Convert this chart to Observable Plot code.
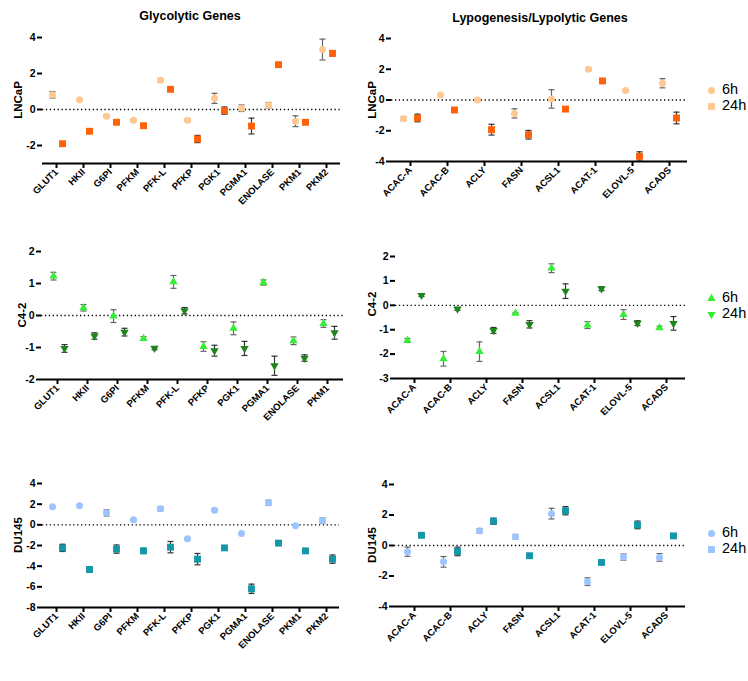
<!DOCTYPE html>
<html>
<head>
<meta charset="utf-8">
<script src="https://cdn.jsdelivr.net/npm/d3@7"></script>
<script src="https://cdn.jsdelivr.net/npm/@observablehq/plot@0.6"></script>
<style>
  body { margin: 0; background: white; }
  #root { position: relative; width: 748px; height: 681px; background: white; font-family: "Liberation Sans", Arial, sans-serif; overflow: hidden; }
  .abs { position: absolute; }
  .title { position: absolute; font-weight: bold; font-size: 12.5px; transform: translateX(-50%); white-space: nowrap; }
  .ylab { position: absolute; font-weight: bold; font-size: 11.5px; transform: translate(-50%, -50%) rotate(-90deg); white-space: nowrap; }
  .leg { position: absolute; font-family: "Liberation Sans", Arial, sans-serif; font-size: 14.5px; line-height: 15px; white-space: nowrap; }
</style>
</head>
<body>
<div id="root"></div>
<script>
// ---------- categories ----------
const glyGenes = ["GLUT1","HKII","G6PI","PFKM","PFK-L","PFKP","PGK1","PGMA1","ENOLASE","PKM1","PKM2"];
const glyGenesC42 = ["GLUT1","HKII","G6PI","PFKM","PFK-L","PFKP","PGK1","PGMA1","ENOLASE","PKM1"];
const lipGenes = ["ACAC-A","ACAC-B","ACLY","FASN","ACSL1","ACAT-1","ELOVL-5","ACADS"];
const seriesNames = ["6h","24h"];

// ---------- LNCaP ----------
const lncapGly6h   = [0.82, 0.54, -0.37, -0.60, 1.63, -0.60, 0.62, 0.07, 0.24, -0.65, 3.33];
const lncapGly6hE  = [0.18, 0, 0.08, 0.05, 0.08, 0.08, 0.28, 0.18, 0.15, 0.30, 0.58];
const lncapGly24h  = [-1.90, -1.21, -0.71, -0.90, 1.12, -1.64, -0.06, -0.92, 2.49, -0.71, 3.12];
const lncapGly24hE = [0.12, 0.12, 0.05, 0.10, 0.05, 0.20, 0.20, 0.44, 0.05, 0.05, 0.15];
const lncapLip6h   = [-1.22, 0.33, 0.00, -0.87, 0.07, 2.00, 0.61, 1.09];
const lncapLip6hE  = [0.12, 0, 0.05, 0.30, 0.60, 0.08, 0.06, 0.30];
const lncapLip24h  = [-1.17, -0.65, -1.93, -2.26, -0.59, 1.24, -3.67, -1.17];
const lncapLip24hE = [0.25, 0.05, 0.35, 0.28, 0.15, 0.12, 0.30, 0.38];

// ---------- C4-2 ----------
const c42Gly6h   = [1.23, 0.24, -0.02, -0.72, 1.05, -0.97, -0.40, 1.03, -0.79, -0.25];
const c42Gly6hE  = [0.12, 0.10, 0.20, 0.06, 0.20, 0.15, 0.20, 0.08, 0.12, 0.12];
const c42Gly24h  = [-1.03, -0.64, -0.52, -1.02, 0.15, -1.10, -1.03, -1.57, -1.33, -0.54];
const c42Gly24hE = [0.12, 0.10, 0.12, 0.05, 0.10, 0.17, 0.22, 0.30, 0.10, 0.20];
const c42Lip6h   = [-1.44, -2.19, -1.90, -0.33, 1.52, -0.81, -0.38, -0.92];
const c42Lip6hE  = [0.08, 0.30, 0.40, 0.03, 0.18, 0.14, 0.20, 0.06];
const c42Lip24h  = [0.41, -0.15, -1.03, -0.78, 0.58, 0.68, -0.73, -0.74];
const c42Lip24hE = [0.05, 0.06, 0.12, 0.15, 0.30, 0.08, 0.10, 0.28];

// ---------- DU145 ----------
const du145Gly6h   = [1.74, 1.84, 1.16, 0.48, 1.55, -1.35, 1.42, -0.84, 2.13, -0.10, 0.42];
const du145Gly6hE  = [0, 0, 0.30, 0.10, 0.20, 0.10, 0.10, 0, 0.25, 0, 0.25];
const du145Gly24h  = [-2.23, -4.32, -2.35, -2.52, -2.16, -3.32, -2.23, -6.19, -1.77, -2.52, -3.32];
const du145Gly24hE = [0.35, 0.25, 0.40, 0.25, 0.55, 0.55, 0.20, 0.45, 0.10, 0.20, 0.40];
const du145Lip6h   = [-0.41, -1.07, 0.96, 0.57, 2.09, -2.37, -0.76, -0.78];
const du145Lip6hE  = [0.30, 0.35, 0.15, 0.15, 0.35, 0.25, 0.20, 0.25];
const du145Lip24h  = [0.67, -0.39, 1.59, -0.67, 2.28, -1.11, 1.35, 0.63];
const du145Lip24hE = [0.08, 0.28, 0.20, 0.12, 0.27, 0.05, 0.25, 0.15];

// ---------- y ticks ----------
const lncapGlyTicks = [-2, 0, 2, 4];
const lncapLipTicks = [-4, -2, 0, 2, 4];
const c42GlyTicks = [-2, -1, 0, 1, 2];
const c42LipTicks = [-3, -2, -1, 0, 1, 2];
const du145GlyTicks = [-8, -6, -4, -2, 0, 2, 4];
const du145LipTicks = [-4, -2, 0, 2, 4];

// ---------- styles ----------
const palette = {
  lncap: {c6: "#FFC890", c24: "#FF6108", s6: "circle", s24: "square", r6: 0, r24: 0},
  c42:   {c6: "#35EE35", c24: "#1C861C", s6: "triangle", s24: "triangle", r6: 0, r24: 180},
  du145: {c6: "#9CC4FF", c24: "#1597A9", s6: "circle", s24: "square", r6: 0, r24: 0}
};
const symR = {circle: 3.5, square: 3.9, triangle: 3.1};

const capSymbol = {
  draw(ctx) { ctx.moveTo(-3, 0); ctx.lineTo(3, 0); }
};

function rows(genes, v6, e6, v24, e24) {
  const out = [];
  genes.forEach((g, i) => {
    out.push({gene: g, series: "6h", v: v6[i], e: e6[i]});
    out.push({gene: g, series: "24h", v: v24[i], e: e24[i]});
  });
  return out;
}

function panel(o) {
  const data = rows(o.genes, o.v6, o.e6, o.v24, o.e24);
  const pal = palette[o.cell];
  const marks = [];
  marks.push(Plot.ruleY([0], {stroke: "#000", strokeWidth: 1.3, strokeDasharray: "1.3,2.6"}));
  for (const s of seriesNames) {
    const d = data.filter(r => r.series === s && r.e > 0);
    const dx = s === "6h" ? o.dx6 : o.dx24;
    const st = s === "6h" ? "#666" : "#333";
    marks.push(Plot.ruleX(d, {x: "gene", y1: r => r.v - r.e, y2: r => r.v + r.e, dx, stroke: st, strokeWidth: 1.2}));
    marks.push(Plot.dot(d, {x: "gene", y: r => r.v + r.e, dx, symbol: capSymbol, stroke: st, strokeWidth: 1.2, r: 3}));
    marks.push(Plot.dot(d, {x: "gene", y: r => r.v - r.e, dx, symbol: capSymbol, stroke: st, strokeWidth: 1.2, r: 3}));
  }
  for (const s of seriesNames) {
    const d = data.filter(r => r.series === s);
    const dx = s === "6h" ? o.dx6 : o.dx24;
    const sym = s === "6h" ? pal.s6 : pal.s24;
    const rot = s === "6h" ? pal.r6 : pal.r24;
    const col = s === "6h" ? pal.c6 : pal.c24;
    marks.push(Plot.dot(d, {x: "gene", y: "v", dx, symbol: sym, rotate: rot, fill: col, stroke: "none", r: symR[sym]}));
  }
  marks.push(Plot.ruleY([o.domain[0]], {stroke: "#000", strokeWidth: 2}));
  marks.push(Plot.axisY({ticks: o.ticks, tickFormat: d => String(d), tickSize: 5, tickPadding: 2, strokeWidth: 2, line: true, label: null, fontWeight: "bold", fontSize: 10.5}));
  marks.push(Plot.axisX({tickRotate: -45, tickSize: 5, tickPadding: 2, strokeWidth: 2, label: null, fontWeight: "bold", fontSize: 9.5}));

  const chart = Plot.plot({
    width: o.width, height: o.height,
    marginLeft: o.ml, marginRight: o.mr, marginTop: o.mt, marginBottom: o.mb,
    style: {fontFamily: "Liberation Sans, Arial, sans-serif", background: "transparent", overflow: "visible", color: "#000"},
    x: {type: "point", domain: o.genes, padding: o.pad},
    y: {domain: o.domain},
    marks
  });
  chart.classList.add("abs");
  chart.style.left = o.left + "px";
  chart.style.top = o.top + "px";
  return chart;
}

const root = document.getElementById("root");

const panels = [
  {cell: "lncap", genes: glyGenes, v6: lncapGly6h, e6: lncapGly6hE, v24: lncapGly24h, e24: lncapGly24hE, ticks: lncapGlyTicks,
   domain: [-3, 4], left: 0, top: 0, width: 350, height: 210, ml: 42, mr: 10, mt: 37, mb: 47, pad: 0.42, dx6: -4, dx24: 6},
  {cell: "lncap", genes: lipGenes, v6: lncapLip6h, e6: lncapLip6hE, v24: lncapLip24h, e24: lncapLip24hE, ticks: lncapLipTicks,
   domain: [-4, 4], left: 370, top: 0, width: 327, height: 208, ml: 21, mr: 10, mt: 38, mb: 47, pad: 0.5, dx6: -7, dx24: 7},
  {cell: "c42", genes: glyGenesC42, v6: c42Gly6h, e6: c42Gly6hE, v24: c42Gly24h, e24: c42Gly24hE, ticks: c42GlyTicks,
   domain: [-2, 2], left: 0, top: 210, width: 353, height: 216, ml: 41, mr: 10, mt: 41, mb: 47, pad: 0.45, dx6: -4, dx24: 7},
  {cell: "c42", genes: lipGenes, v6: c42Lip6h, e6: c42Lip6hE, v24: c42Lip24h, e24: c42Lip24hE, ticks: c42LipTicks,
   domain: [-3, 2], left: 370, top: 210, width: 325, height: 215, ml: 25, mr: 10, mt: 46, mb: 47, pad: 0.5, dx6: -7, dx24: 7},
  {cell: "du145", genes: glyGenes, v6: du145Gly6h, e6: du145Gly6hE, v24: du145Gly24h, e24: du145Gly24hE, ticks: du145GlyTicks,
   domain: [-8, 4], left: 0, top: 440, width: 349, height: 214, ml: 42, mr: 10, mt: 43, mb: 47, pad: 0.42, dx6: -4, dx24: 6},
  {cell: "du145", genes: lipGenes, v6: du145Lip6h, e6: du145Lip6hE, v24: du145Lip24h, e24: du145Lip24hE, ticks: du145LipTicks,
   domain: [-4, 4], left: 370, top: 440, width: 325, height: 213, ml: 24, mr: 10, mt: 44, mb: 47, pad: 0.5, dx6: -7, dx24: 7}
];
panels.forEach(p => root.appendChild(panel(p)));

function addDiv(cls, text, x, y) {
  const d = document.createElement("div");
  d.className = cls;
  d.textContent = text;
  d.style.left = x + "px";
  d.style.top = y + "px";
  root.appendChild(d);
  return d;
}
addDiv("title", "Glycolytic Genes", 190, 9);
addDiv("title", "Lypogenesis/Lypolytic Genes", 540, 11);
addDiv("ylab", "LNCaP", 18, 100);
addDiv("ylab", "LNCaP", 372, 100);
addDiv("ylab", "C4-2", 22, 315);
addDiv("ylab", "C4-2", 372, 304);
addDiv("ylab", "DU145", 18, 535);
addDiv("ylab", "DU145", 372, 545);

// legends
const legends = [
  {cell: "lncap", y: 90, c6: palette.lncap.c6, c24: palette.lncap.c6},
  {cell: "c42", y: 298, c6: palette.c42.c6, c24: palette.c42.c6},
  {cell: "du145", y: 533, c6: palette.du145.c6, c24: palette.du145.c6}
];
legends.forEach(L => {
  const pal = palette[L.cell];
  const leg = Plot.plot({
    width: 20, height: 30, margin: 0,
    x: {domain: [0, 20], range: [0, 20], axis: null},
    y: {domain: [0, 30], range: [0, 30], axis: null},
    style: {background: "transparent", overflow: "visible"},
    marks: [
      Plot.dot([{series: "6h", yy: 5}], {x: 10, y: "yy", symbol: pal.s6, rotate: pal.r6, fill: L.c6, r: symR[pal.s6]}),
      Plot.dot([{series: "24h", yy: 21}], {x: 10, y: "yy", symbol: pal.s24, rotate: pal.r24, fill: L.c24, r: symR[pal.s24]})
    ]
  });
  leg.classList.add("abs");
  leg.style.left = "701px";
  leg.style.top = (L.y - 5) + "px";
  root.appendChild(leg);
  addDiv("leg", seriesNames[0], 722, L.y - 8);
  addDiv("leg", seriesNames[1], 722, L.y + 8);
});
</script>
</body>
</html>
